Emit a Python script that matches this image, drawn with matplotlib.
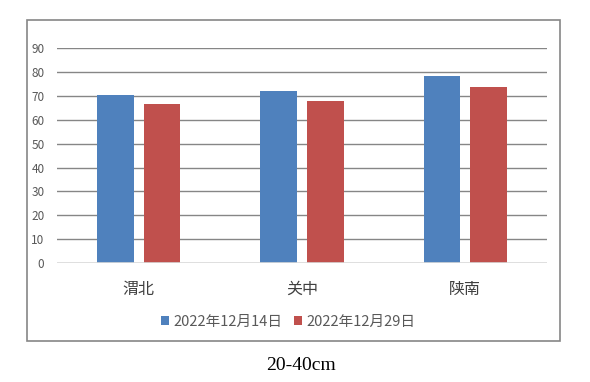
import matplotlib.pyplot as plt
from matplotlib.patches import Rectangle
import numpy as np

plt.rcParams['font.family'] = ['Noto Sans CJK SC', 'DejaVu Sans']

regions = ['渭北', '关中', '陕南']
series_names = ['2022年12月14日', '2022年12月29日']
dec14 = [70.4, 72.1, 78.4]
dec29 = [66.6, 67.9, 73.8]
colors = ['#4F81BD', '#C0504D']

fig = plt.figure(figsize=(5.9, 3.82), dpi=100)
ax = fig.add_axes([57 / 590, 1 - 263 / 382, 490 / 590, (263 - 48.3) / 382])

x = np.arange(len(regions))
w = 0.224
off = 0.143
ax.bar(x - off, dec14, width=w, color=colors[0], label=series_names[0], zorder=3)
ax.bar(x + off, dec29, width=w, color=colors[1], label=series_names[1], zorder=3)

ax.set_xlim(-0.5, 2.5)
ax.set_ylim(0, 90)
ax.set_yticks(range(0, 91, 10))
ax.set_xticks(x)
ax.set_xticklabels(regions, fontsize=11.5, color='#404040')
ax.tick_params(axis='x', length=0, pad=13)
ax.tick_params(axis='y', length=0, pad=9, labelsize=8.5, labelcolor='#595959')

for v in range(10, 91, 10):
    ax.axhline(v, color='#868686', lw=1, zorder=1)
ax.axhline(0, color='#D9D9D9', lw=1.2, zorder=4)
for s in ax.spines.values():
    s.set_visible(False)

fig.legend(loc='center', bbox_to_anchor=(288 / 590, 1 - 322 / 382), ncol=2,
           frameon=False, fontsize=10.5, handlelength=0.55, handleheight=0.55,
           handletextpad=0.3, columnspacing=0.8, labelcolor='#595959')

# chart border
fig.patches.append(Rectangle((26.5 / 590, 1 - 341 / 382), 533 / 590, 320.7 / 382,
                             transform=fig.transFigure, fill=False,
                             edgecolor='#868686', lw=1.2))

fig.text(301 / 590, 1 - 365 / 382, '20-40cm', ha='center', va='center',
         fontsize=14, family='Liberation Serif')

plt.savefig('out.png', dpi=100)
